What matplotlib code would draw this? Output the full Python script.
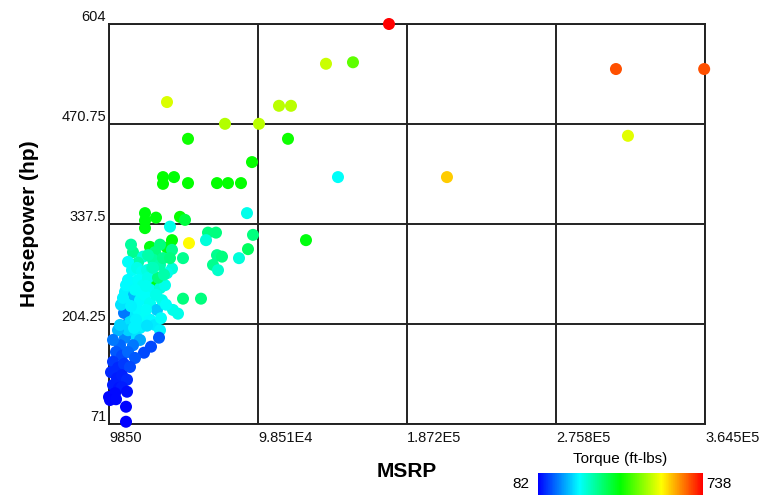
import matplotlib
matplotlib.use('Agg')
import matplotlib.pyplot as plt
import numpy as np
from matplotlib.colors import LinearSegmentedColormap

plt.rcParams['font.family'] = ['Liberation Sans', 'DejaVu Sans']

# price (USD), horsepower and torque (ft-lbs) per car
msrp = [
    176450, 311515, 364000, 318655, 210960, 146105, 138965, 155030, 111000, 118140,
    44360, 78870, 99100, 56855, 116355, 94935, 41980, 41980, 48525, 56855,
    74110, 80655, 88390, 127065, 91960, 31270, 31270, 37815, 31270, 52095,
    55070, 46145, 68755, 73515, 67565, 57450, 47335, 44360, 34245, 95530,
    92555, 87200, 74110, 77085, 71730, 74705, 53880, 47335, 53880, 64590,
    47930, 50905, 47335, 44360, 37220, 24130, 37220, 30080, 27105, 36030,
    21155, 23535, 26510, 29485, 32460, 35435, 40195, 41980, 21155, 24130,
    27105, 30080, 33055, 34245, 40195, 43170, 19370, 22345, 24725, 28295,
    31270, 34245, 38410, 41385, 21155, 24130, 27105, 30675, 34245, 37220,
    18775, 19965, 22345, 28295, 31865, 40790, 43765, 16990, 18180, 39005,
    46145, 40195, 33055, 22940, 19965, 25320, 28890, 31865, 37815, 22940,
    25915, 32460, 40195, 36030, 42575,
    39600, 34840, 30675, 22345, 25915, 28295, 24130, 19370, 16395, 14015,
    17585, 21155, 25320, 12230, 15205, 18775, 22345, 11040, 14610, 17585,
    20560, 12230, 15800, 17585, 20560, 9850, 13420, 10445, 14015, 19965,
    19965, 21155, 24725, 15205, 12230, 16395,
]
horsepower = [
    604, 544, 544, 455, 400, 400, 551, 553, 495, 495,
    500, 471, 471, 451, 451, 420, 400, 391, 400, 392,
    392, 392, 392, 316, 352, 352, 342, 346, 332, 347,
    343, 334, 326, 326, 316, 312, 316, 306, 307, 323,
    304, 292, 296, 294, 283, 276, 292, 303, 238, 238,
    223, 218, 278, 272, 259, 300, 300, 294, 286, 290,
    287, 276, 279, 274, 276, 279, 283, 292, 263, 259,
    263, 256, 266, 250, 252, 256, 247, 236, 243, 236,
    242, 232, 223, 236, 223, 216, 223, 212, 210, 203,
    219, 203, 207, 199, 223, 212, 230, 230, 239, 266,
    292, 310, 296, 310, 256, 250, 246, 255, 243, 228,
    210, 202, 196, 279, 270,
    186, 174, 166, 194, 188, 183, 176, 186, 176, 167,
    162, 167, 159, 154, 146, 151, 147, 140, 132, 136,
    130, 123, 119, 120, 114, 107, 112, 103, 104, 94,
    74, 196, 199, 196, 183, 203,
]
torque = [
    738, 685, 685, 555, 607, 250, 540, 470, 530, 530,
    550, 525, 530, 420, 420, 415, 410, 410, 405, 410,
    410, 410, 410, 400, 260, 400, 400, 400, 400, 415,
    370, 260, 330, 330, 270, 575, 405, 400, 400, 330,
    350, 270, 320, 330, 320, 280, 320, 320, 330, 330,
    260, 260, 270, 260, 400, 320, 330, 270, 300, 310,
    250, 250, 260, 255, 265, 280, 300, 320, 245, 245,
    250, 255, 260, 255, 270, 260, 240, 240, 200, 245,
    250, 255, 215, 260, 240, 235, 245, 250, 245, 235,
    160, 110, 230, 240, 250, 250, 250, 230, 240, 330,
    330, 330, 300, 310, 245, 250, 250, 255, 260, 240,
    240, 230, 240, 290, 300,
    140, 130, 130, 200, 230, 190, 160, 170, 150, 140,
    130, 150, 140, 120, 110, 120, 130, 110, 100, 105,
    110, 100, 95, 100, 90, 85, 88, 85, 88, 86,
    82, 220, 240, 200, 160, 220,
]

x_ticks = [9850, 98512.5, 187175, 275837.5, 364500]
x_ticklabels = ['9850', '9.851E4', '1.872E5', '2.758E5', '3.645E5']
y_ticks = [71, 204.25, 337.5, 470.75, 604]
y_ticklabels = ['71', '204.25', '337.5', '470.75', '604']
tq_min, tq_max = 82, 738

cmap = LinearSegmentedColormap.from_list(
    'torque', ['#0000ff', '#00ffff', '#00ff00', '#ffff00', '#ff0000'])

fig = plt.figure(figsize=(7.6, 4.96), dpi=100)
ax = fig.add_axes([109 / 760, 1 - 424 / 496, 596 / 760, 400 / 496])

sc = ax.scatter(msrp, horsepower, c=torque, cmap=cmap, vmin=tq_min, vmax=tq_max,
                s=75, linewidths=0, zorder=3, clip_on=False)

ax.set_xlim(x_ticks[0], x_ticks[-1])
ax.set_ylim(y_ticks[0], y_ticks[-1])
ax.set_xticks(x_ticks)
ax.set_xticklabels(x_ticklabels, ha='left')
ax.set_yticks(y_ticks)
ax.set_yticklabels(y_ticklabels, va='bottom')
ax.tick_params(length=0, labelsize=10.5, colors='#111111')
ax.tick_params(axis='x', pad=5)
ax.tick_params(axis='y', pad=2)
ax.grid(True, color='#222222', linewidth=1.4, zorder=1)
ax.set_axisbelow(True)
for sp in ax.spines.values():
    sp.set_color('#222222')
    sp.set_linewidth(1.4)

ax.set_xlabel('MSRP', fontsize=15, fontweight='bold', labelpad=12)
ax.set_ylabel('Horsepower (hp)', fontsize=15, fontweight='bold', labelpad=16)

# torque colour scale
cax = fig.add_axes([538 / 760, 1 - 495 / 496, 165 / 760, 22 / 496])
cb = fig.colorbar(sc, cax=cax, orientation='horizontal')
cb.outline.set_visible(False)
cb.set_ticks([])
cax.text(-0.05, 0.5, str(tq_min), transform=cax.transAxes, ha='right', va='center', fontsize=11)
cax.text(1.02, 0.5, str(tq_max), transform=cax.transAxes, ha='left', va='center', fontsize=11)
cax.set_title('Torque (ft-lbs)', fontsize=11, pad=7)

fig.savefig('out.png', dpi=100)
